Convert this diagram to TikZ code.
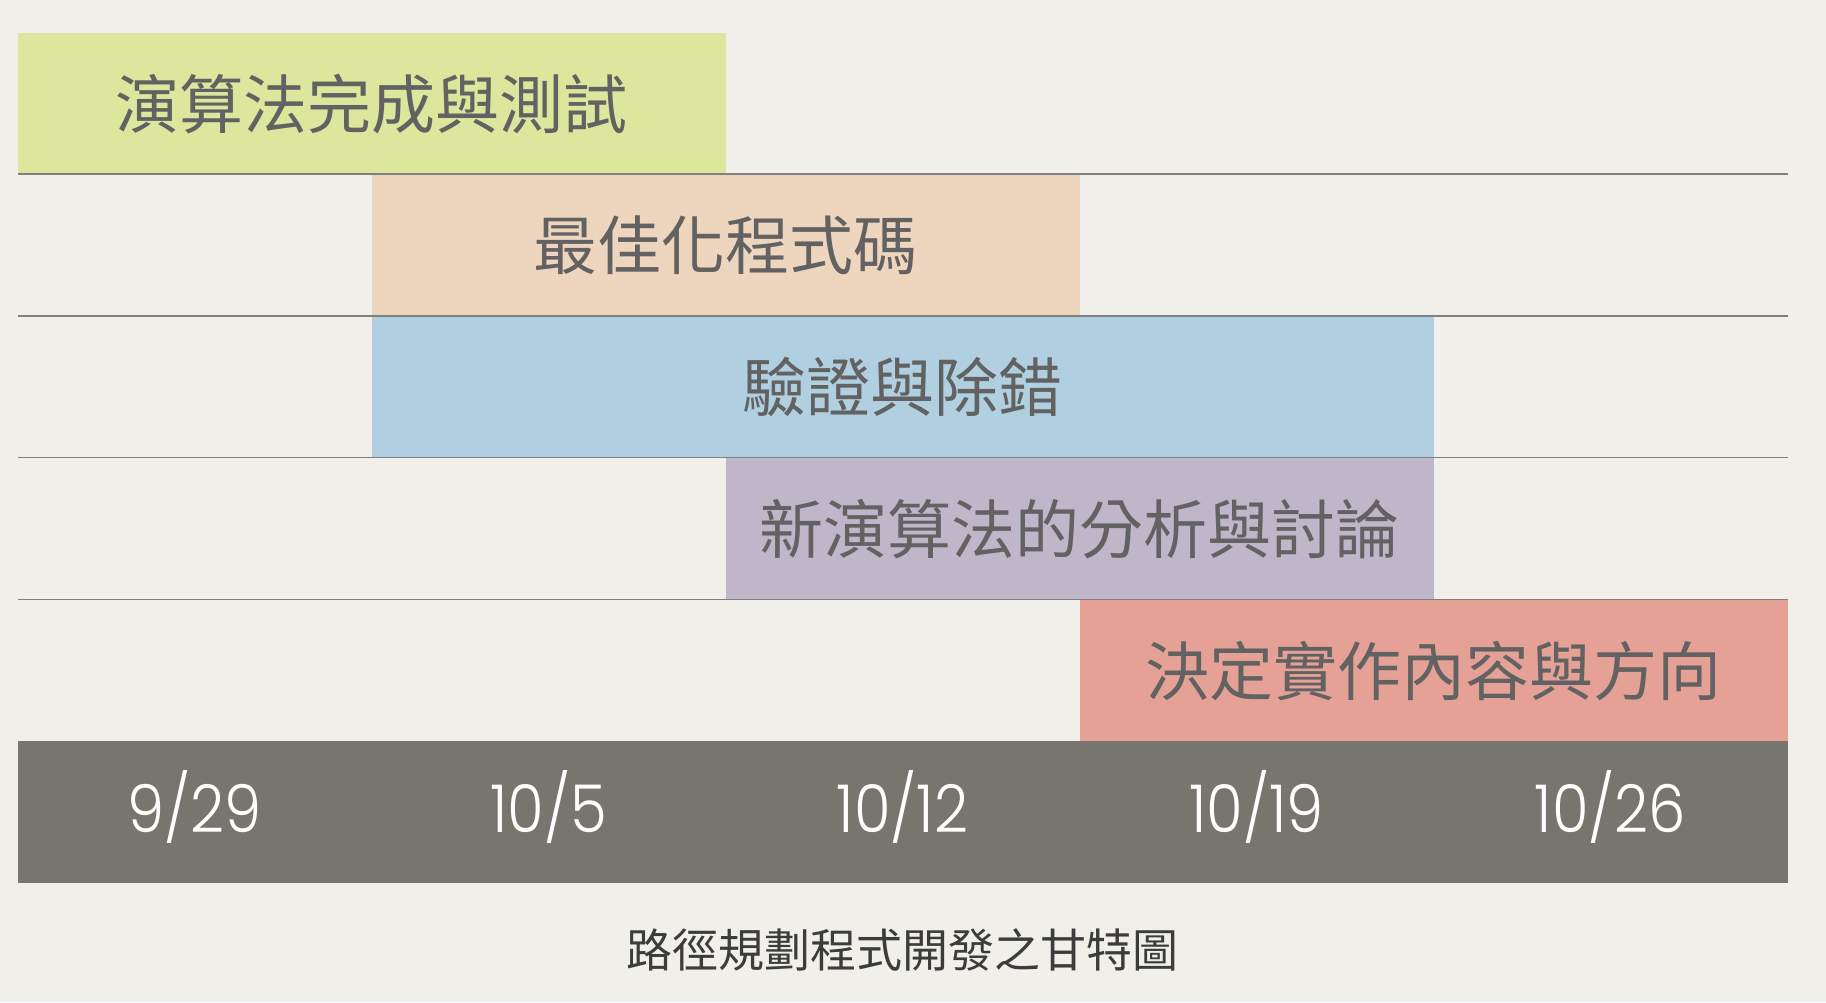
\documentclass[tikz,border=0pt]{standalone}
\usepackage{fontspec}
\usepackage{xcolor}
\usepackage{tikz}
\usetikzlibrary{positioning}

\newfontfamily\cjksans{Noto Sans CJK TC}
\newfontfamily\datefont[FakeStretch=0.9, UprightFont=* Light]{Poppins}

\definecolor{paper}{HTML}{F1EFEA}
\definecolor{gridgray}{HTML}{808080}
\definecolor{labelgray}{HTML}{626262}
\definecolor{captiongray}{HTML}{3C3C3C}
\definecolor{axisgray}{HTML}{78756E}
\definecolor{taskgreen}{HTML}{DCE69C}
\definecolor{taskpeach}{HTML}{EED5BE}
\definecolor{taskblue}{HTML}{B0CFE0}
\definecolor{taskpurple}{HTML}{BFB7C9}
\definecolor{tasksalmon}{HTML}{E5A196}

\begin{document}
\begin{tikzpicture}[
        x=0.5pt, y=-0.5pt,
        % Style for the task bars
        taskbar/.style={
            anchor=north west,
            inner sep=0pt,
            minimum height=70.85pt,
            text=labelgray,
            font=\cjksans\fontsize{32}{32}\selectfont
        },
        % Style for the date labels on the time axis
        datelabel/.style={
            text=white,
            inner sep=0pt,
            font=\datefont\fontsize{33}{33}\selectfont
        },
        % Style for the row separator lines
        rowline/.style={
            draw=gridgray,
            line width=0.75pt
        }
    ]

    % background paper
    \fill[paper] (0,0) rectangle (1826,1002);
    \useasboundingbox (0,0) rectangle (1826,1002);

    % ==========================================
    % TASK BARS
    % ==========================================
    \node[taskbar, fill=taskgreen,  minimum width=354pt] (algo)    at (17.5, 32.5)   {演算法完成與測試};
    \node[taskbar, fill=taskpeach,  minimum width=354pt] (optim)   at (371.5, 174.2) {最佳化程式碼};
    \node[taskbar, fill=taskblue,   minimum width=531pt] (verify)  at (371.5, 315.9) {驗證與除錯};
    \node[taskbar, fill=taskpurple, minimum width=354pt] (newalgo) at (725.5, 457.6) {新演算法的分析與討論};
    \node[taskbar, fill=tasksalmon, minimum width=354pt] (decide)  at (1079.5, 599.3) {決定實作內容與方向};

    % row separators
    \draw[rowline] (17.5, 174.2) -- (1787.5, 174.2);
    \draw[rowline] (17.5, 315.9) -- (1787.5, 315.9);
    \draw[rowline] (17.5, 457.6) -- (1787.5, 457.6);
    \draw[rowline] (17.5, 599.3) -- (1787.5, 599.3);

    % ==========================================
    % TIME AXIS
    % ==========================================
    \fill[axisgray] (17.5, 741) rectangle (1787.5, 882.7);

    \node[datelabel] (d0) at (194.5, 807)  {9/29};
    \node[datelabel] (d1) at (548.5, 807)  {10/5};
    \node[datelabel] (d2) at (902.5, 807)  {10/12};
    \node[datelabel] (d3) at (1256.5, 807) {10/19};
    \node[datelabel] (d4) at (1610.5, 807) {10/26};

    % caption
    \node[text=captiongray, font=\cjksans\fontsize{23}{23}\selectfont] (caption) at (902.5, 950) {路徑規劃程式開發之甘特圖};
  \end{tikzpicture}
\end{document}
